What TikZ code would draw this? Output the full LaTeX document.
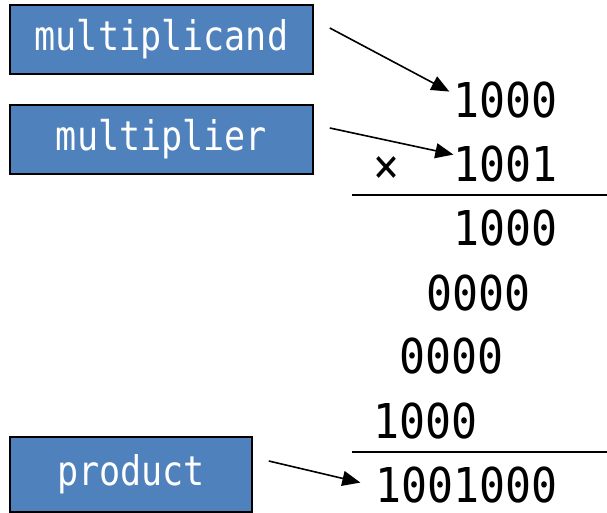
\documentclass[tikz,border=0pt]{standalone}
\usepackage{fontspec}
\usepackage{tikz}
\usetikzlibrary{calc, positioning, arrows.meta}

\newfontfamily\labelfont[FakeStretch=0.86]{DejaVu Sans Mono}
\newfontfamily\digitfont[FakeStretch=0.9]{DejaVu Sans Mono}
\definecolor{boxblue}{HTML}{4F81BD}

\begin{document}
\begin{tikzpicture}[
    x=1pt, y=-1pt,
    >={Triangle[length=18pt, width=15pt]},
    line width=1.6pt,
    namebox/.style={draw=black, fill=boxblue, text=white, inner sep=0pt,
        minimum height=69pt, font=\labelfont\fontsize{40.8}{48}\selectfont},
    digits/.style={anchor=base east, inner sep=0pt,
        font=\digitfont\fontsize{48}{56}\selectfont}
]
    \useasboundingbox (0, 0) rectangle (607, 513);

    % Name boxes (left side)
    \node[namebox, minimum width=303pt] (mcand) at (161.5, 39.5) {multiplicand};
    \node[namebox, minimum width=303pt] (mplier) at (161.5, 139.5) {multiplier};
    \node[namebox, minimum width=242pt, minimum height=75pt] (prod) at (131, 474.5) {product};

    % Operands
    \node[digits] (row1) at (558, 118) {1000};
    \node[digits] (row2) at (558, 182) {1001};
    \node[font=\digitfont\fontsize{48}{56}\selectfont, inner sep=0pt] (times) at (386, 170) {×};

    % Partial products
    \node[digits] (row3) at (558, 245) {1000};
    \node[digits] (row4) at (531.3, 310) {0000};
    \node[digits] (row5) at (504.6, 373) {0000};
    \node[digits] (row6) at (477.9, 438) {1000};

    % Product
    \node[digits] (result) at (558, 502) {1001000};

    % Rules
    \draw[line width=2pt] (352, 195) -- (607, 195);
    \draw[line width=2pt] (352, 452) -- (607, 452);

    % Arrows
    \draw[->] ($(mcand.east)+(16, -11.5)$) -- ($(row1.north west)+(-3, 10)$);
    \draw[->] ($(mplier.east)+(16, -11.5)$) -- ($(row2.north west)+(1, 9)$);
    \draw[->] ($(prod.east)+(16, -13.5)$) -- ($(result.north west)+(-14, 17)$);

\end{tikzpicture}
\end{document}
